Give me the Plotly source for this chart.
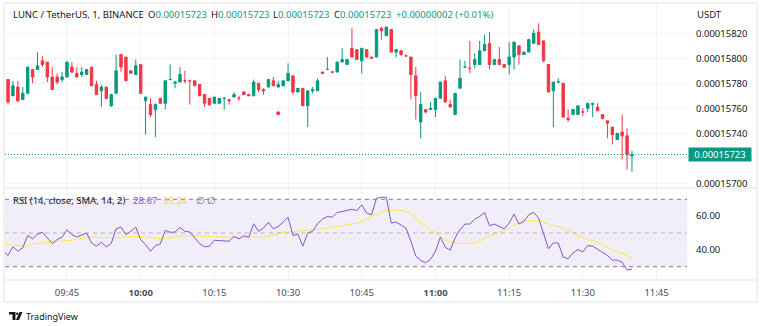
import numpy as np
import pandas as pd
import plotly.graph_objects as go

# ---------------- data (prices in units of 1e-8 USDT) ----------------
start_time = "2023-06-01 09:32"
open_e8 = [15796, 15783, 15770, 15777, 15767, 15772, 15791, 15791, 15798, 15797,
           15785, 15785, 15783, 15785, 15793, 15788, 15787, 15787, 15793, 15779,
           15774, 15777, 15762, 15772, 15803, 15801, 15790, 15787, 15795, 15766,
           15763, 15759, 15768, 15764, 15783, 15780, 15781, 15782, 15782, 15782,
           15779, 15771, 15768, 15764, 15764, 15768, 15767, 15769, 15768, 15773,
           15771, 15770, 15780, 15775, 15777, 15782, 15777, 15778, 15782, 15786,
           15773, 15776, 15762, 15774, 15774, 15789, 15791, 15789, 15789, 15797,
           15795, 15808, 15807, 15798, 15807, 15801, 15801, 15824, 15818, 15823,
           15805, 15806, 15802, 15801, 15786, 15749, 15759, 15759, 15759, 15768,
           15782, 15763, 15755, 15776, 15793, 15792, 15795, 15795, 15806, 15812,
           15795, 15799, 15795, 15795, 15801, 15810, 15803, 15805, 15812, 15821,
           15814, 15795, 15774, 15781, 15780, 15752, 15755, 15755, 15757, 15760,
           15763, 15761, 15755, 15750, 15745, 15735, 15741, 15738, 15722]
high_e8 = [15797, 15783, 15782, 15782, 15777, 15793, 15791, 15805, 15802, 15797,
           15793, 15788, 15789, 15797, 15797, 15793, 15793, 15791, 15793, 15782,
           15779, 15777, 15771, 15803, 15803, 15801, 15790, 15799, 15795, 15769,
           15768, 15764, 15768, 15782, 15795, 15782, 15793, 15790, 15783, 15782,
           15779, 15771, 15768, 15769, 15768, 15769, 15767, 15773, 15770, 15774,
           15771, 15783, 15780, 15776, 15783, 15785, 15782, 15782, 15796, 15786,
           15776, 15776, 15774, 15777, 15784, 15789, 15801, 15790, 15797, 15808,
           15799, 15824, 15807, 15808, 15807, 15801, 15823, 15825, 15825, 15823,
           15807, 15806, 15803, 15801, 15793, 15773, 15759, 15765, 15768, 15781,
           15786, 15767, 15772, 15799, 15798, 15814, 15804, 15814, 15819, 15821,
           15799, 15809, 15795, 15813, 15813, 15810, 15805, 15815, 15823, 15828,
           15814, 15795, 15781, 15784, 15780, 15759, 15759, 15762, 15760, 15764,
           15764, 15764, 15755, 15750, 15745, 15740, 15755, 15744, 15726]
low_e8 = [15782, 15763, 15770, 15765, 15767, 15772, 15780, 15791, 15793, 15781,
          15775, 15779, 15781, 15785, 15788, 15785, 15785, 15787, 15778, 15771,
          15761, 15767, 15761, 15772, 15789, 15782, 15788, 15787, 15772, 15739,
          15753, 15737, 15764, 15759, 15783, 15776, 15781, 15780, 15763, 15778,
          15770, 15761, 15762, 15764, 15764, 15759, 15763, 15769, 15766, 15771,
          15770, 15770, 15773, 15771, 15777, 15778, 15777, 15778, 15782, 15771,
          15773, 15762, 15745, 15772, 15774, 15788, 15791, 15788, 15789, 15797,
          15795, 15801, 15799, 15788, 15801, 15800, 15801, 15815, 15818, 15805,
          15801, 15802, 15801, 15767, 15751, 15736, 15756, 15759, 15753, 15768,
          15765, 15761, 15755, 15776, 15793, 15788, 15792, 15795, 15806, 15791,
          15795, 15795, 15792, 15787, 15791, 15795, 15803, 15805, 15812, 15811,
          15797, 15773, 15745, 15780, 15753, 15749, 15755, 15755, 15754, 15757,
          15753, 15758, 15751, 15736, 15731, 15735, 15719, 15711, 15709]
close_e8 = [15783, 15765, 15778, 15766, 15772, 15793, 15785, 15794, 15795, 15785,
            15775, 15781, 15785, 15797, 15789, 15785, 15789, 15791, 15778, 15771,
            15777, 15768, 15771, 15790, 15793, 15782, 15788, 15794, 15772, 15769,
            15755, 15763, 15764, 15782, 15783, 15781, 15787, 15782, 15782, 15778,
            15770, 15764, 15763, 15769, 15768, 15768, 15766, 15771, 15768, 15771,
            15770, 15781, 15775, 15774, 15783, 15778, 15779, 15782, 15788, 15773,
            15776, 15762, 15774, 15775, 15782, 15788, 15791, 15789, 15797, 15799,
            15799, 15801, 15799, 15808, 15801, 15800, 15823, 15822, 15825, 15805,
            15807, 15803, 15802, 15787, 15770, 15763, 15757, 15760, 15768, 15781,
            15765, 15761, 15772, 15784, 15793, 15792, 15799, 15806, 15811, 15795,
            15799, 15795, 15793, 15801, 15813, 15803, 15805, 15815, 15820, 15811,
            15798, 15773, 15781, 15781, 15753, 15751, 15759, 15762, 15757, 15764,
            15764, 15758, 15752, 15748, 15739, 15740, 15738, 15723, 15723]
rsi_values = [39.2, 36.7, 41.8, 39.2, 41.2, 48.6, 46.5, 49.4, 50.4, 47.1,
              43.7, 46.1, 47.5, 52.0, 49.0, 47.6, 49.0, 50.0, 44.1, 42.2,
              44.5, 41.8, 43.7, 52.5, 53.5, 49.0, 51.0, 53.5, 46.1, 43.1,
              39.2, 42.5, 43.5, 51.6, 50.4, 50.6, 53.3, 51.0, 50.6, 47.1,
              43.7, 41.8, 42.2, 45.7, 45.5, 45.7, 45.1, 48.0, 46.5, 48.4,
              47.5, 55.5, 51.0, 52.9, 56.3, 52.5, 53.9, 56.5, 59.4, 48.4,
              49.4, 42.2, 50.0, 51.0, 55.5, 58.2, 59.8, 59.4, 62.2, 62.7,
              63.3, 64.1, 63.3, 66.7, 61.8, 60.8, 70.6, 71.2, 71.2, 55.9,
              56.5, 54.5, 52.9, 45.1, 36.3, 33.7, 32.4, 34.3, 39.2, 47.5,
              41.6, 39.8, 47.1, 52.0, 55.3, 55.3, 58.2, 59.8, 62.2, 54.3,
              55.3, 53.9, 52.4, 55.9, 61.2, 55.3, 56.9, 60.8, 62.2, 58.8,
              50.0, 40.6, 44.1, 44.1, 35.7, 34.7, 38.2, 40.2, 38.8, 42.5,
              42.2, 40.2, 38.6, 36.7, 33.9, 33.9, 32.7, 28.0, 28.67]
rsi_sma_values = [43.3, 43.1, 42.7, 42.4, 42.2, 42.5, 43.5, 43.9, 44.1, 44.3,
                  44.5, 44.7, 44.9, 45.1, 45.7, 46.3, 46.9, 47.3, 47.5, 47.5,
                  47.3, 47.1, 47.1, 47.3, 47.6, 47.8, 48.0, 48.0, 48.0, 47.6,
                  47.1, 46.7, 46.5, 46.7, 47.1, 48.0, 48.4, 48.4, 48.4, 48.4,
                  48.4, 48.2, 48.0, 47.8, 47.6, 47.6, 47.5, 47.5, 47.5, 47.3,
                  47.1, 47.1, 47.1, 47.5, 48.0, 49.0, 50.0, 50.4, 50.6, 51.0,
                  51.4, 51.6, 51.8, 52.0, 52.2, 52.5, 53.1, 53.5, 53.9, 54.3,
                  54.7, 55.1, 55.9, 56.9, 58.2, 59.8, 61.2, 62.4, 63.3, 63.7,
                  63.7, 63.3, 62.7, 61.4, 58.8, 55.9, 53.5, 51.6, 50.4, 48.4,
                  46.1, 44.9, 44.1, 43.7, 43.7, 43.9, 44.1, 45.1, 47.1, 48.4,
                  49.4, 50.4, 51.6, 52.4, 54.9, 55.9, 56.9, 57.3, 57.5, 57.3,
                  56.3, 55.3, 54.5, 53.9, 52.7, 51.6, 50.0, 48.4, 47.1, 46.1,
                  45.5, 44.1, 42.7, 41.2, 39.8, 38.8, 37.8, 36.7, 35.24]
dot_time = ["2023-06-01 10:28"]
dot_e8 = [15756]
header_ohlc_e8 = [15723, 15723, 15723, 15723]
header_change = "+0.00000002 (+0.01%)"
last_price_e8 = 15723
price_ticks_e8 = [15700, 15720, 15740, 15760, 15780, 15800, 15820]
rsi_ticks = [40, 60]
time_tick_labels = ["09:45", "10:00", "10:15", "10:30", "10:45", "11:00", "11:15", "11:30", "11:45"]

# ---------------- geometry helpers ----------------
W, H = 760, 326
PL, PR, PT, PB = 5, 687, 3, 280       # plot area in pixels
SEP = 188                              # pane separator pixel row
def fx(px):
    return (px - PL) / (PR - PL)
def fy(py):
    return (PB - py) / (PB - PT)

E8 = 1e-8
times = pd.date_range(start_time, periods=len(open_e8), freq="min")
o = np.array(open_e8) * E8
h = np.array(high_e8) * E8
l = np.array(low_e8) * E8
c = np.array(close_e8) * E8

GREEN = "#089981"
RED = "#F23645"
TXT = "#131722"
FONT = "Noto Sans"
FS = 9.5

fig = go.Figure()
fig.add_trace(go.Candlestick(
    x=times, open=o, high=h, low=l, close=c, xaxis="x", yaxis="y",
    increasing=dict(line=dict(color=GREEN, width=1), fillcolor=GREEN),
    decreasing=dict(line=dict(color=RED, width=1), fillcolor=RED),
    whiskerwidth=0, hoverinfo="skip", showlegend=False))
fig.add_trace(go.Scatter(
    x=pd.to_datetime(dot_time), y=np.array(dot_e8) * E8, mode="markers",
    marker=dict(color=RED, size=4), xaxis="x", yaxis="y",
    hoverinfo="skip", showlegend=False))
fig.add_trace(go.Scatter(
    x=times, y=rsi_sma_values, mode="lines", line=dict(color="#FFEB3B", width=1),
    xaxis="x", yaxis="y2", hoverinfo="skip", showlegend=False))
fig.add_trace(go.Scatter(
    x=times, y=rsi_values, mode="lines", line=dict(color="#7E57C2", width=1),
    xaxis="x", yaxis="y2", hoverinfo="skip", showlegend=False))

x_left = pd.Timestamp(start_time) + pd.Timedelta(seconds=23)
x_right = pd.Timestamp(start_time) + pd.Timedelta(seconds=int(139.2 * 60))
tick_times = [pd.Timestamp("2023-06-01 " + t) for t in time_tick_labels]
tick_text = [("<b>%s</b>" % t) if t.endswith(":00") else t for t in time_tick_labels]

GRID = "#f0f3fa"
y_lo = 15700 + (183.3 - SEP) / 1.25
y_hi = 15700 + (183.3 - PT) / 1.25
r_lo = 50 - (PB - 233.0) / 1.685
r_hi = 50 + (233.0 - SEP) / 1.685

# the 0.00015720 label is hidden behind the last-price tag in the reference
price_tick_text = ["" if v == 15720 else "%.8f" % (v * E8) for v in price_ticks_e8]

fig.update_layout(
    width=W, height=H, margin=dict(l=PL, r=W - PR, t=PT, b=H - PB),
    paper_bgcolor="white", plot_bgcolor="white", showlegend=False,
    hovermode=False, font=dict(family=FONT, size=FS, color=TXT),
    xaxis=dict(type="date", range=[x_left, x_right], anchor="y2",
               showgrid=True, gridcolor=GRID, gridwidth=1, zeroline=False,
               showline=False, ticks="", tickvals=tick_times, ticktext=tick_text,
               tickfont=dict(family=FONT, size=FS, color="#4a4e59"),
               ticklabelstandoff=5, rangeslider=dict(visible=False), fixedrange=True),
    yaxis=dict(domain=[fy(SEP), 1], range=[y_lo * E8, y_hi * E8], anchor="x",
               side="right", showgrid=True, gridcolor=GRID, zeroline=False,
               showline=False, ticks="", tickvals=[v * E8 for v in price_ticks_e8],
               ticktext=price_tick_text,
               tickfont=dict(family=FONT, size=FS, color=TXT),
               ticklabelstandoff=8, fixedrange=True),
    yaxis2=dict(domain=[0, fy(SEP)], range=[r_lo, r_hi], anchor="x",
                side="right", showgrid=True, gridcolor=GRID, zeroline=False,
                showline=False, ticks="", tickvals=rsi_ticks,
                ticktext=["%.2f" % v for v in rsi_ticks],
                tickfont=dict(family=FONT, size=FS, color=TXT),
                ticklabelstandoff=8, fixedrange=True),
)

BORDER = "#e0e3eb"
shapes = [
    # RSI band
    dict(type="rect", xref="paper", yref="y2", x0=0, x1=1, y0=30, y1=70,
         fillcolor="rgba(126,87,194,0.1)", line=dict(width=0), layer="below"),
    dict(type="line", xref="paper", yref="y2", x0=0, x1=1, y0=70, y1=70,
         line=dict(color="#787B86", width=1, dash="4px,4px")),
    dict(type="line", xref="paper", yref="y2", x0=0, x1=1, y0=50, y1=50,
         line=dict(color="rgba(120,123,134,0.5)", width=1, dash="4px,4px")),
    dict(type="line", xref="paper", yref="y2", x0=0, x1=1, y0=30, y1=30,
         line=dict(color="#787B86", width=1, dash="4px,4px")),
    # last price line
    dict(type="line", xref="paper", yref="y", x0=0, x1=1,
         y0=last_price_e8 * E8, y1=last_price_e8 * E8,
         line=dict(color=GREEN, width=1, dash="1px,2px")),
    # separators / frame
    dict(type="line", xref="paper", yref="paper", x0=fx(4), x1=fx(757),
         y0=fy(SEP), y1=fy(SEP), line=dict(color=BORDER, width=1)),
    dict(type="line", xref="paper", yref="paper", x0=fx(4), x1=fx(757),
         y0=fy(PB), y1=fy(PB), line=dict(color=BORDER, width=1)),
    dict(type="rect", xref="paper", yref="paper", x0=fx(4), x1=fx(757),
         y0=fy(302), y1=fy(3), line=dict(color=BORDER, width=1)),
]

# TradingView logo glyph
def path_px(pts):
    return "M" + " L".join("%f,%f" % (fx(a), fy(b)) for a, b in pts) + " Z"
shapes.append(dict(type="path", xref="paper", yref="paper",
                   path=path_px([(9, 312), (15.5, 312), (15.5, 320), (12.5, 320), (12.5, 314.5), (9, 314.5)]),
                   fillcolor=TXT, line=dict(width=0)))
shapes.append(dict(type="circle", xref="paper", yref="paper",
                   x0=fx(16), x1=fx(18.4), y0=fy(315), y1=fy(312.6),
                   fillcolor=TXT, line=dict(width=0)))
shapes.append(dict(type="path", xref="paper", yref="paper",
                   path=path_px([(19.5, 312), (22.5, 312), (19, 320), (16, 320)]),
                   fillcolor=TXT, line=dict(width=0)))
fig.update_layout(shapes=shapes)

def ann(px, py, text, color=TXT, size=FS, **kw):
    d = dict(xref="paper", yref="paper", x=fx(px), y=fy(py), text=text,
             showarrow=False, xanchor="left", yanchor="middle",
             font=dict(family=FONT, size=size, color=color))
    d.update(kw)
    return d

def hv(v):
    return "<span style='color:%s'>%s</span>" % (GREEN, "%.8f" % (v * E8))

annotations = [
    ann(11, 15, "LUNC / TetherUS, 1, BINANCE"),
    ann(146, 15, "O" + hv(header_ohlc_e8[0])),
    ann(209, 15, "H" + hv(header_ohlc_e8[1])),
    ann(271, 15, "L" + hv(header_ohlc_e8[2])),
    ann(332, 15, "C" + hv(header_ohlc_e8[3])),
    ann(394, 15, header_change, color=GREEN),
    ann(695, 15, "USDT"),
    ann(11, 200, "RSI (14, close, SMA, 14, 2)"),
    ann(131, 200, "%.2f" % rsi_values[-1], color="#7E57C2"),
    ann(161, 200, "%.2f" % rsi_sma_values[-1], color="#F5D33B"),
    ann(194, 200, "\u2205", color="#787B86"),
    ann(205, 200, "\u2205", color="#787B86"),
    ann(24, 316, "TradingView", size=9),
    dict(xref="paper", yref="y", x=fx(688), y=last_price_e8 * E8,
         text="%.8f" % (last_price_e8 * E8), showarrow=False, xanchor="left",
         yanchor="middle", bgcolor=GREEN, width=60, height=11, borderpad=1,
         font=dict(family=FONT, size=FS, color="white")),
]
fig.update_layout(annotations=annotations)

fig.write_html("out.html")
